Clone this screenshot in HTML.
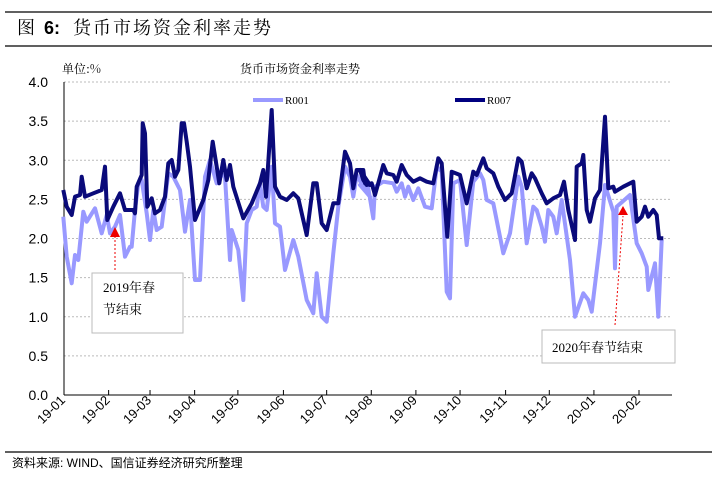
<!DOCTYPE html>
<html><head><meta charset="utf-8">
<style>
body{margin:0;background:#fff;width:712px;height:483px;overflow:hidden;font-family:"Liberation Sans","Noto Serif CJK SC",sans-serif;}
</style></head>
<body>
<svg id="s" width="712" height="483" xmlns="http://www.w3.org/2000/svg">
<line x1="5" y1="12" x2="712" y2="12" stroke="#000" stroke-width="1.2"/>
<line x1="5" y1="46" x2="712" y2="46" stroke="#000" stroke-width="1.2"/>
<text x="17" y="34" font-size="18" font-family="'Noto Serif CJK SC',serif" fill="#000">图</text>
<text x="44" y="34" font-size="18" font-weight="bold" font-family="'Liberation Sans',sans-serif">6:</text>
<text x="73" y="34" font-size="18" font-family="'Noto Serif CJK SC',serif" letter-spacing="2">货币市场资金利率走势</text>
<text x="62" y="73" font-size="12" font-family="'Noto Serif CJK SC',serif">单位:%</text>
<text x="240" y="73" font-size="12" font-family="'Noto Serif CJK SC',serif">货币市场资金利率走势</text>
<g id="grid" stroke="#bbb" stroke-dasharray="2,2" stroke-width="1"></g>
<g id="ylab" font-size="14" fill="#000" text-anchor="end"></g>
<line x1="64" y1="82" x2="64" y2="395" stroke="#000"/>
<line x1="64" y1="395" x2="672" y2="395" stroke="#000"/>
<g id="xt"></g>
<line x1="253" y1="100" x2="283" y2="100" stroke="#9999ff" stroke-width="4"/>
<text x="285" y="104" font-size="11" font-family="'Liberation Serif',serif">R001</text>
<line x1="455" y1="100" x2="485" y2="100" stroke="#000080" stroke-width="4"/>
<text x="487" y="104" font-size="11" font-family="'Liberation Serif',serif">R007</text>
<polyline id="r1" fill="none" stroke="#9999ff" stroke-width="4" stroke-linejoin="round"/>
<polyline id="r7" fill="none" stroke="#0a0a7a" stroke-width="4" stroke-linejoin="round"/>
<rect x="92" y="273" width="91" height="60" fill="#fff" stroke="#bbb"/>
<text x="103" y="292" font-size="13" font-family="'Liberation Serif','Noto Serif CJK SC',serif">2019年春</text>
<text x="103" y="314" font-size="13" font-family="'Noto Serif CJK SC',serif">节结束</text>
<line x1="115" y1="270" x2="115" y2="236" stroke="#e00" stroke-dasharray="2,2"/>
<polygon points="115,227 110,237 120,237" fill="#e00"/>
<rect x="542" y="330" width="133" height="33" fill="#fff" stroke="#bbb"/>
<text x="552" y="352" font-size="13" font-family="'Liberation Serif','Noto Serif CJK SC',serif">2020年春节结束</text>
<line x1="615" y1="325" x2="623" y2="216" stroke="#e00" stroke-dasharray="2,2"/>
<polygon points="623,206 618,215 628,215" fill="#e00"/>
<line x1="5" y1="452" x2="712" y2="452" stroke="#000" stroke-width="1.2"/>
<text x="12" y="467" font-size="12" font-family="'Liberation Sans','Noto Sans CJK SC',sans-serif">资料来源: WIND、国信证券经济研究所整理</text>
</svg>
<script>
var ns="http://www.w3.org/2000/svg";
function el(t,a,p,txt){var e=document.createElementNS(ns,t);for(var k in a)e.setAttribute(k,a[k]);if(txt)e.textContent=txt;document.getElementById(p).appendChild(e);}
for(var i=0;i<=8;i++){var y=395-i*0.5*78.25;if(i>0)el('line',{x1:64,x2:672,y1:y,y2:y},'grid');
el('text',{x:48,y:y+5},'ylab',(i*0.5).toFixed(1));}
var labs=["19-01","19-02","19-03","19-04","19-05","19-06","19-07","19-08","19-09","19-10","19-11","19-12","20-01","20-02"];
var tz=[138,235,325,422,516,615,709,806,903,999,1098,1193,1290,1388];
tz.forEach(function(z,i){var x=64+(z-138)*0.46;
if(i>0)el('line',{x1:x,x2:x,y1:395,y2:390,stroke:'#000'},'xt');
el('text',{x:x+2,y:401,'font-size':13,'text-anchor':'end',transform:'rotate(-45 '+(x+2)+' 401)'},'xt',labs[i]);});
function cv(a,ox,oy){var o=[];for(var i=0;i<a.length;i+=2)o.push((ox+a[i]/3).toFixed(1)+','+(oy+a[i+1]/3).toFixed(1));return o;}
var d7a=[10,270,20,320,35,345,45,290,60,285,65,230,75,290,100,280,125,270,135,200,142,360,160,320,180,280,195,330,220,330,225,340,230,260,245,225,248,70,255,100,262,320,275,295,285,340,300,330,315,290,325,190,335,180,345,230,355,210,365,70,372,70,380,125,390,200,405,360,430,300,445,240,458,125,470,200,478,250,490,180,500,240,510,195,520,260,550,355,575,310,600,250,610,210,618,290,635,30,645,260,660,290,680,300,700,280,715,295,740,405,760,250,770,250,785,370,800,390,820,310,835,310,855,155,870,190,880,265,890,210,910,210,915,250,930,255];
var d7b=[0,210,10,240,20,255,35,250,45,285,70,195,80,220,100,225,110,245,125,195,140,225,160,245,180,235,200,245,220,250,235,175,245,190,262,410,275,215,300,225,320,310,340,215,350,225,370,175,380,205,400,220,415,260,435,300,455,280,475,175,485,185,500,265,515,220,525,235,545,280,560,310,580,295,600,285,612,245,625,330,645,420,650,200,665,190,670,165,680,330,690,365,705,295,720,270,735,50,745,265,760,260,765,275,790,260,820,245,830,365,845,350,855,320,865,350,880,330,890,345,897,415,910,415];
var d1a=[10,350,20,470,35,550,45,465,55,480,70,335,80,365,105,325,125,400,140,345,150,400,165,380,180,345,195,470,210,440,215,440,225,330,235,250,245,240,260,340,270,420,280,330,290,390,305,380,315,300,325,220,340,230,360,270,375,395,390,300,405,540,420,540,435,230,450,180,470,250,480,220,495,230,510,480,515,390,535,450,550,600,560,370,575,330,590,320,600,250,610,320,620,330,635,200,645,370,660,380,675,510,700,420,715,470,740,600,760,640,770,520,785,650,800,665,820,460,835,320,855,200,870,230,880,290,890,225,910,260,930,290];
var d1b=[0,255,10,260,25,265,40,355,45,260,70,245,100,250,110,275,125,250,135,290,145,260,160,300,175,265,195,320,215,325,230,200,245,215,260,575,270,595,280,250,300,240,320,435,340,245,360,220,370,240,380,300,400,310,430,460,450,400,475,230,485,260,500,430,520,320,530,330,545,380,555,425,565,330,580,350,590,400,605,300,630,480,645,650,670,580,685,600,695,635,720,430,735,255,760,335,765,505,770,320,810,285,830,430,845,460,860,500,865,570,885,490,895,650,905,420];
document.getElementById('r7').setAttribute('points',cv(d7a,60,100).concat(cv(d7b,360,100)).join(' '));
document.getElementById('r1').setAttribute('points',cv(d1a,60,100).concat(cv(d1b,360,100)).join(' '));
</script>
</body></html>
